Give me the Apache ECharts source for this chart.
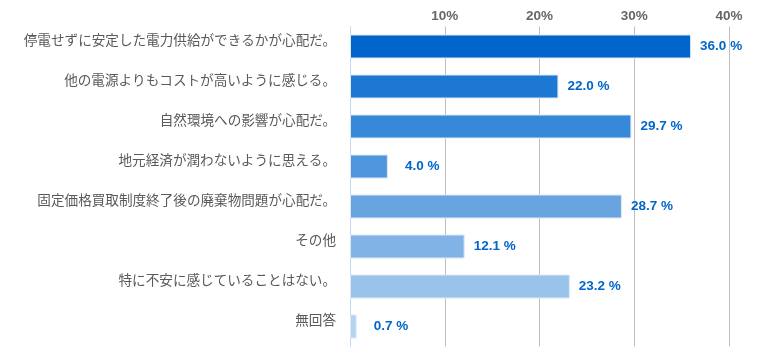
<!DOCTYPE html>
<html>
<head>
<meta charset="utf-8">
<script src="https://cdn.jsdelivr.net/npm/echarts@6/dist/echarts.min.js"></script>
<style>
  html, body { margin: 0; padding: 0; background: #fff; }
  #main { width: 760px; height: 354px; }
</style>
</head>
<body>
<div id="main"></div>
<script>
// 項目
const categories = [
  '停電せずに安定した電力供給ができるかが心配だ。',
  '他の電源よりもコストが高いように感じる。',
  '自然環境への影響が心配だ。',
  '地元経済が潤わないように思える。',
  '固定価格買取制度終了後の廃棄物問題が心配だ。',
  'その他',
  '特に不安に感じていることはない。',
  '無回答'
];
// 割合(%)
const values = [36.0, 22.0, 29.7, 4.0, 28.7, 12.1, 23.2, 0.7];
const barColors = ['#0066cc', '#1c78d2', '#3688d8', '#5096dc', '#68a5e0', '#82b3e6', '#9ac3eb', '#b4d3f1'];
const xTicks = [0, 10, 20, 30, 40];

const chart = echarts.init(document.getElementById('main'));

chart.setOption({
  animation: false,
  grid: { left: 350, right: 31, top: 26.5, bottom: 7.5 },
  xAxis: {
    type: 'value',
    position: 'top',
    min: xTicks[0],
    max: xTicks[xTicks.length - 1],
    interval: 10,
    axisLine: { show: false },
    axisTick: { show: false },
    axisLabel: {
      showMinLabel: false,
      margin: 3,
      formatter: '{value}%',
      color: '#666',
      fontFamily: 'Arial, "Liberation Sans", sans-serif',
      fontWeight: 'bold',
      fontSize: 13.5
    },
    splitLine: {
      showMinLine: false,
      lineStyle: { color: '#c0c0c0', width: 1 }
    }
  },
  yAxis: {
    type: 'category',
    inverse: true,
    data: categories,
    axisLine: { lineStyle: { color: '#c6d9f1', width: 1 } },
    axisTick: { length: 4, lineStyle: { color: '#c6d9f1' } },
    axisLabel: {
      margin: 14,
      verticalAlign: 'bottom',
      lineHeight: 14,
      color: '#595959',
      fontFamily: '"Noto Sans CJK JP", sans-serif',
      fontSize: 13.6
    }
  },
  series: [{
    type: 'bar',
    barWidth: 24,
    data: values.map((v, i) => ({
      value: v,
      itemStyle: { color: barColors[i] },
      label: { distance: v < 5 ? 17 : 9 }
    })),
    itemStyle: { borderColor: '#dce8f7', borderWidth: 1 },
    label: {
      show: true,
      position: 'right',
      formatter: p => p.value.toFixed(1) + ' %',
      color: '#0066cc',
      fontFamily: 'Arial, "Liberation Sans", sans-serif',
      fontWeight: 'bold',
      fontSize: 13.5
    }
  }]
});
</script>
</body>
</html>
